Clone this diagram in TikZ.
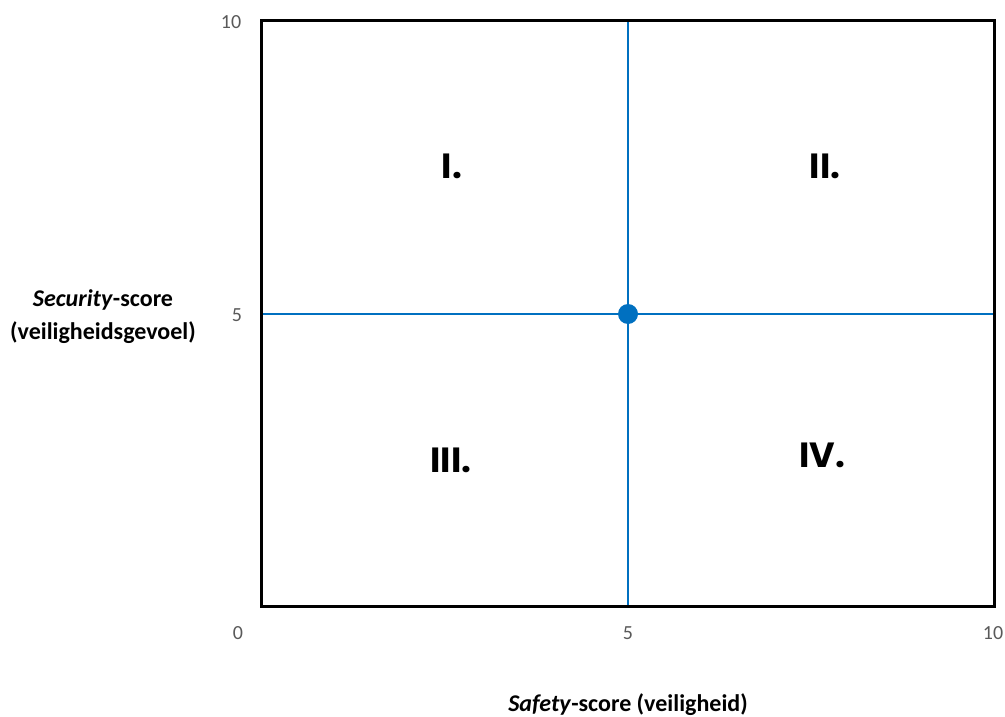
\documentclass[tikz,border=0pt]{standalone}
\usepackage{fontspec}
\setmainfont{Carlito}
\newfontfamily\numfont{Poppins}
\definecolor{axisblue}{HTML}{0070C0}
\definecolor{ticktext}{HTML}{595959}
\begin{document}
\begin{tikzpicture}[x=1pt,y=-1pt,
  tick/.style={text=ticktext,font=\fontsize{20}{22}\selectfont,inner sep=0pt},
  axislabel/.style={font=\fontsize{24}{33}\selectfont\bfseries,align=center,inner sep=0pt},
  quadrant/.style={font=\numfont\fontsize{35}{40}\selectfont\bfseries,inner sep=0pt},
  divider/.style={axisblue,line width=1.8pt},
  frame/.style={black,line width=3pt}]
\useasboundingbox (0,0) rectangle (1005,717);

% plot area corners and midpoints
\coordinate (bl) at (261,606);
\coordinate (tr) at (994,21);
\coordinate (midtop) at (628,21);
\coordinate (midbottom) at (628,606);
\coordinate (midleft) at (261,314);
\coordinate (midright) at (994,314);

% quadrant dividers
\draw[divider] (midtop) -- (midbottom);
\draw[divider] (midleft) -- (midright);

% frame
\draw[frame] (bl) rectangle (tr);

% centre point
\node[circle,fill=axisblue,minimum size=20pt,inner sep=0pt] (centre) at (628,314) {};

% tick labels
\node[tick] (y10) at (231,22) {10};
\node[tick] (y5) at (237,315) {5};
\node[tick] (x0) at (238,633) {0};
\node[tick] (x5) at (628,633) {5};
\node[tick] (x10) at (993,633) {10};

% axis titles
\node[axislabel] (ytitle) at (103,317) {\textit{Security}-score\\(veiligheidsgevoel)};
\node[axislabel] (xtitle) at (628,705) {\textit{Safety}-score (veiligheid)};

% quadrant numbers
\node[quadrant] (q1) at (452,166) {I.};
\node[quadrant] (q2) at (825,166) {II.};
\node[quadrant] (q3) at (451,460) {III.};
\node[quadrant] (q4) at (822,455) {IV.};
\end{tikzpicture}
\end{document}
